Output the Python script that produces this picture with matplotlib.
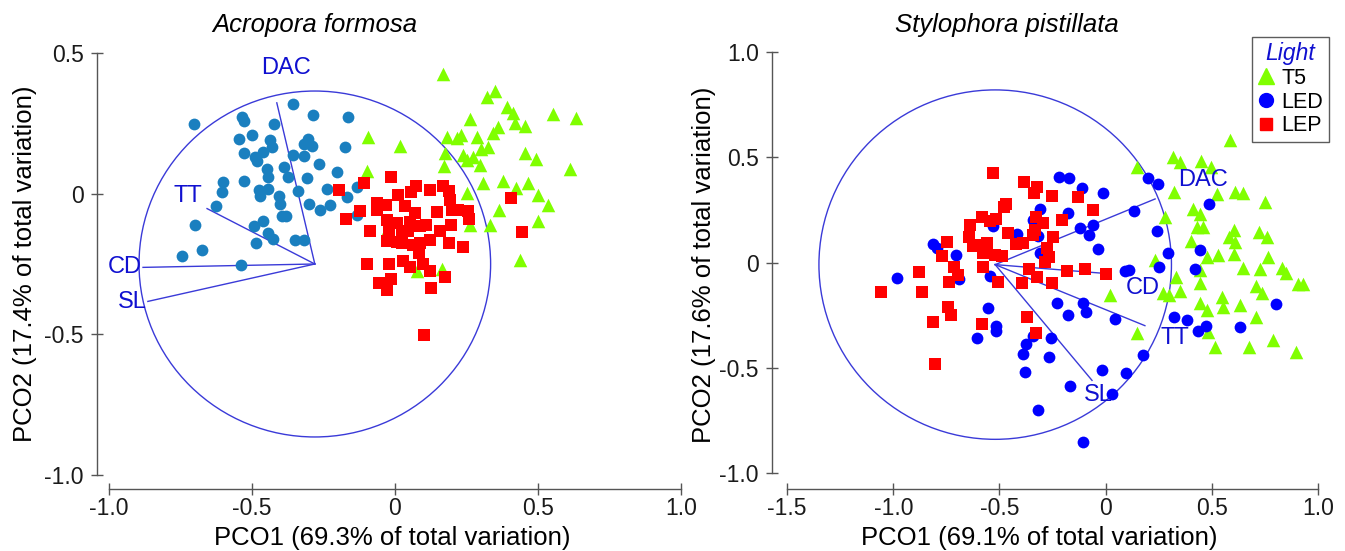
import numpy as np
import matplotlib
matplotlib.use("Agg")
import matplotlib.pyplot as plt
from matplotlib.patches import Ellipse
from matplotlib.lines import Line2D

plt.rcParams['font.family'] = ['Liberation Sans', 'DejaVu Sans']
plt.rcParams['axes.unicode_minus'] = False

# ---------------- Acropora formosa ----------------
afo_led_x = [-0.702, -0.358, -0.536, -0.528, -0.424, -0.288, -0.164, -0.501, -0.545, -0.436,
             -0.429, -0.304, -0.318, -0.290, -0.175, -0.527, -0.490, -0.461, -0.484, -0.356,
             -0.318, -0.266, -0.449, -0.388, -0.443, -0.373, -0.202, -0.309, -0.600, -0.528,
             -0.604, -0.474, -0.443, -0.472, -0.406, -0.340, -0.402, -0.237, -0.169, -0.134,
             -0.302, -0.262, -0.227, -0.626, -0.396, -0.382, -0.700, -0.492, -0.463, -0.443,
             -0.426, -0.486, -0.350, -0.318, -0.743, -0.675, -0.538, -0.134]
afo_led_y = [0.248, 0.319, 0.274, 0.259, 0.248, 0.280, 0.272, 0.209, 0.195, 0.191,
             0.166, 0.195, 0.177, 0.170, 0.166, 0.144, 0.132, 0.150, 0.117, 0.139,
             0.134, 0.105, 0.088, 0.094, 0.061, 0.058, 0.076, 0.055, 0.040, 0.046,
             0.005, 0.012, 0.017, -0.008, -0.008, 0.011, -0.038, 0.017, -0.013, 0.023,
             -0.035, -0.059, -0.039, -0.045, -0.080, -0.080, -0.110, -0.116, -0.098, -0.139,
             -0.160, -0.177, -0.163, -0.163, -0.222, -0.201, -0.255, -0.074]

afo_lep_x = [-0.195, -0.107, -0.014, 0.073, 0.122, 0.169, 0.190, 0.058, 0.012, -0.062,
             -0.031, -0.064, -0.122, -0.171, 0.035, 0.070, 0.146, 0.192, 0.201, 0.256,
             0.259, 0.221, -0.027, 0.006, 0.052, 0.087, 0.110, 0.157, 0.198, -0.087,
             -0.019, 0.025, 0.047, -0.027, 0.006, 0.025, 0.062, 0.087, 0.122, 0.190,
             0.237, 0.085, -0.099, -0.019, 0.027, 0.052, 0.099, 0.122, 0.175, -0.056,
             -0.029, -0.012, 0.128, 0.408, 0.446, 0.102]
afo_lep_y = [0.014, 0.038, 0.059, 0.029, 0.014, 0.029, 0.008, 0.005, -0.005, -0.033,
             -0.041, -0.057, -0.063, -0.090, -0.045, -0.069, -0.065, -0.024, -0.057, -0.063,
             -0.090, -0.057, -0.092, -0.104, -0.102, -0.116, -0.110, -0.134, -0.113, -0.134,
             -0.128, -0.134, -0.134, -0.169, -0.171, -0.175, -0.181, -0.177, -0.163, -0.175,
             -0.190, -0.210, -0.249, -0.249, -0.238, -0.262, -0.249, -0.276, -0.295, -0.319,
             -0.341, -0.305, -0.334, -0.015, -0.137, -0.504]

afo_t5_x = [0.169, 0.321, 0.350, 0.391, 0.414, 0.420, 0.455, 0.554, 0.635, 0.262,
            0.361, 0.344, 0.286, 0.181, 0.216, 0.233, 0.326, 0.303, -0.093, 0.017,
            0.455, 0.495, 0.612, 0.175, 0.239, 0.274, 0.251, 0.297, 0.171, -0.099,
            0.309, 0.379, 0.425, 0.466, 0.501, 0.536, 0.251, 0.365, 0.332, 0.501,
            0.437, 0.262, -0.024, 0.076, 0.166]
afo_t5_y = [0.424, 0.345, 0.366, 0.310, 0.286, 0.251, 0.239, 0.284, 0.269, 0.266,
            0.237, 0.217, 0.203, 0.201, 0.197, 0.209, 0.166, 0.159, 0.203, 0.168,
            0.146, 0.123, 0.088, 0.144, 0.138, 0.130, 0.121, 0.103, 0.099, 0.079,
            0.038, 0.044, 0.020, 0.038, -0.004, -0.041, 0.002, -0.059, -0.110, -0.098,
            -0.234, -0.110, -0.122, -0.276, -0.267]

afo_origin = (-0.28, -0.25)
afo_radius = 0.615
afo_vec_names = ['DAC', 'TT', 'CD', 'SL']
afo_vec_x = [-0.413, -0.657, -0.881, -0.864]
afo_vec_y = [0.323, -0.053, -0.262, -0.383]

# ---------------- Stylophora pistillata ----------------
spi_led_x = [-0.218, -0.171, -0.110, -0.011, -0.309, -0.176, -0.340, -0.529, -0.419, -0.317,
             -0.121, -0.058, -0.077, -0.034, -0.811, -0.795, -0.704, -0.692, -0.544, -0.984,
             -0.230, -0.176, -0.105, -0.094, 0.044, -0.555, -0.517, -0.517, -0.607, -0.376,
             -0.390, -0.340, -0.258, -0.265, -0.379, -0.168, -0.018, 0.096, 0.029, -0.317,
             -0.105, 0.091, -0.309, 0.201, 0.248, 0.134, 0.488, 0.243, 0.292, 0.253,
             0.444, 0.421, 0.112, 0.802, 0.324, 0.385, 0.437, 0.473, 0.633, 0.178]
spi_led_y = [0.408, 0.400, 0.352, 0.329, 0.253, 0.234, 0.202, 0.173, 0.135, 0.126,
             0.162, 0.178, 0.131, 0.063, 0.086, 0.067, 0.036, -0.080, -0.064, -0.075,
             -0.194, -0.249, -0.191, -0.234, -0.268, -0.215, -0.302, -0.324, -0.360, -0.387,
             -0.436, -0.349, -0.360, -0.447, -0.522, -0.587, -0.511, -0.526, -0.625, -0.701,
             -0.851, -0.039, 0.044, 0.400, 0.373, 0.246, 0.276, 0.150, 0.047, -0.020,
             0.059, -0.031, -0.036, -0.197, -0.260, -0.273, -0.324, -0.302, -0.305, -0.439]

spi_lep_x = [-0.532, -0.384, -0.322, -0.337, -0.251, -0.128, -0.058, -0.469, -0.478, -0.583,
             -0.516, -0.544, -0.638, -0.641, -0.591, -0.560, -0.623, -0.576, -0.521, -0.489,
             -0.458, -0.422, -0.390, -0.340, -0.326, -0.296, -0.332, -0.246, -0.277, -0.265,
             -0.285, -0.207, -0.748, -0.772, -0.714, -0.694, -0.736, -0.880, -0.866, -1.057,
             -0.576, -0.505, -0.395, -0.359, -0.322, -0.254, -0.183, -0.097, 0.002, -0.743,
             -0.729, -0.814, -0.583, -0.369, -0.328, -0.803]
spi_lep_y = [0.427, 0.384, 0.360, 0.332, 0.314, 0.310, 0.249, 0.278, 0.266, 0.215,
             0.205, 0.199, 0.178, 0.120, 0.083, 0.094, 0.078, 0.044, 0.036, 0.031,
             0.142, 0.088, 0.094, 0.131, 0.218, 0.186, 0.154, 0.123, 0.067, 0.027,
             0.004, 0.202, 0.099, 0.031, -0.020, -0.059, -0.091, -0.044, -0.139, -0.139,
             -0.023, -0.091, -0.096, -0.031, -0.067, -0.096, -0.039, -0.031, -0.055, -0.213,
             -0.249, -0.281, -0.292, -0.257, -0.333, -0.482]

spi_t5_x = [0.586, 0.316, 0.350, 0.449, 0.495, 0.146, 0.322, 0.523, 0.609, 0.645,
            0.750, 0.410, 0.444, 0.280, 0.429, 0.460, 0.605, 0.583, 0.724, 0.758,
            0.609, 0.401, 0.233, 0.479, 0.531, 0.605, 0.766, 0.645, 0.727, 0.829,
            0.849, 0.331, 0.444, 0.708, 0.735, 0.907, 0.931, 0.350, 0.272, 0.300,
            0.547, 0.551, 0.633, 0.444, 0.479, 0.708, 0.146, 0.482, 0.787, 0.515,
            0.677, 0.896, 0.021, 0.444]
spi_t5_y = [0.582, 0.503, 0.479, 0.482, 0.455, 0.452, 0.333, 0.324, 0.336, 0.329,
            0.286, 0.253, 0.230, 0.218, 0.167, 0.167, 0.154, 0.120, 0.146, 0.120,
            0.099, 0.104, 0.012, 0.028, 0.036, 0.040, 0.025, -0.028, -0.032, -0.028,
            -0.051, -0.067, -0.099, -0.112, -0.146, -0.102, -0.102, -0.135, -0.146, -0.154,
            -0.162, -0.213, -0.202, -0.191, -0.226, -0.260, -0.333, -0.329, -0.368, -0.400,
            -0.400, -0.424, -0.154, -0.036]

spi_origin = (-0.52, -0.01)
spi_radius = 0.83
spi_vec_names = ['DAC', 'CD', 'TT', 'SL']
spi_vec_x = [0.233, -0.026, 0.185, -0.064]
spi_vec_y = [0.302, -0.050, -0.300, -0.560]

GREEN = '#80ff00'
RED = '#ff0000'
TEAL = '#1a7fbf'
BLUE = '#0000ff'
VEC = '#3a3ad8'
LAB = '#1010d0'
AXC = '#555555'


def style_axes(ax, xticks, yticks):
    for s in ['top', 'right']:
        ax.spines[s].set_visible(False)
    for s in ['left', 'bottom']:
        ax.spines[s].set_color(AXC)
        ax.spines[s].set_linewidth(1.0)
    ax.spines['left'].set_bounds(yticks[0], yticks[-1])
    ax.spines['bottom'].set_bounds(xticks[0], xticks[-1])
    ax.set_xticks(xticks)
    ax.set_yticks(yticks)
    fmt = lambda v: '0' if abs(v) < 1e-9 else f'{v:.1f}'
    ax.set_xticklabels([fmt(v) for v in xticks])
    ax.set_yticklabels([fmt(v) for v in yticks])
    ax.tick_params(direction='inout', length=9, width=1, color=AXC,
                   labelsize=16.5, labelcolor='#1a1a1a', pad=5)
    ax.tick_params(axis='x', pad=1)
    ax.set_facecolor('none')


def biplot(ax, origin, radius, names, vx, vy, label_pos):
    ax.add_patch(Ellipse(origin, 2 * radius, 2 * radius, fill=False,
                         edgecolor=VEC, lw=1.0, zorder=1))
    for name, x, y in zip(names, vx, vy):
        ax.plot([origin[0], x], [origin[1], y], color=VEC, lw=1.0, zorder=1)
        tx, ty, ha = label_pos[name]
        ax.text(tx, ty, name, color=LAB, fontsize=17, ha=ha, va='center', zorder=5)


fig = plt.figure(figsize=(13.45, 5.51), dpi=100)

# left panel
ax1 = fig.add_axes([97 / 1345, 62 / 551, 598 / 1345, 450 / 551])
ax1.set_xlim(-1.042, 1.05)
ax1.set_ylim(-1.05, 0.55)
biplot(ax1, afo_origin, afo_radius, afo_vec_names, afo_vec_x, afo_vec_y,
       {'DAC': (-0.38, 0.447, 'center'), 'TT': (-0.724, -0.01, 'center'),
        'CD': (-0.885, -0.262, 'right'), 'SL': (-0.868, -0.386, 'right')})
ax1.scatter(afo_t5_x, afo_t5_y, marker='^', s=95, color=GREEN, linewidths=0, zorder=2)
ax1.scatter(afo_led_x, afo_led_y, marker='o', s=72, color=TEAL, linewidths=0, zorder=3)
ax1.scatter(afo_lep_x, afo_lep_y, marker='s', s=70, color=RED, linewidths=0, zorder=4)
style_axes(ax1, [-1.0, -0.5, 0.0, 0.5, 1.0], [-1.0, -0.5, 0.0, 0.5])
ax1.set_xlabel('PCO1 (69.3% of total variation)', fontsize=18.5)
ax1.set_ylabel('PCO2 (17.4% of total variation)', fontsize=18.5)
ax1.xaxis.set_label_coords(0.493, -0.082)
ax1.yaxis.set_label_coords(-0.101, 0.5)

# right panel
ax2 = fig.add_axes([772 / 1345, 62 / 551, 556.6 / 1345, 447.5 / 551])
ax2.set_xlim(-1.571, 1.05)
ax2.set_ylim(-1.076, 1.05)
biplot(ax2, spi_origin, spi_radius, spi_vec_names, spi_vec_x, spi_vec_y,
       {'DAC': (0.459, 0.39, 'center'), 'CD': (0.176, -0.12, 'center'),
        'TT': (0.327, -0.36, 'center'), 'SL': (-0.036, -0.63, 'center')})
ax2.scatter(spi_t5_x, spi_t5_y, marker='^', s=95, color=GREEN, linewidths=0, zorder=2)
ax2.scatter(spi_led_x, spi_led_y, marker='o', s=72, color=BLUE, linewidths=0, zorder=3)
ax2.scatter(spi_lep_x, spi_lep_y, marker='s', s=70, color=RED, linewidths=0, zorder=4)
style_axes(ax2, [-1.5, -1.0, -0.5, 0.0, 0.5, 1.0], [-1.0, -0.5, 0.0, 0.5, 1.0])
ax2.set_xlabel('PCO1 (69.1% of total variation)', fontsize=18.5)
ax2.set_ylabel('PCO2 (17.6% of total variation)', fontsize=18.5)
ax2.xaxis.set_label_coords(0.481, -0.082)
ax2.yaxis.set_label_coords(-0.100, 0.5)

handles = [Line2D([], [], marker='^', ls='none', color=GREEN, markersize=11),
           Line2D([], [], marker='o', ls='none', color=BLUE, markersize=10),
           Line2D([], [], marker='s', ls='none', color=RED, markersize=9)]
leg = ax2.legend(handles, ['T5', 'LED', 'LEP'], title='Light', loc='upper right',
                 bbox_to_anchor=(1.0, 1.01), fontsize=15.5, title_fontsize=16.5,
                 frameon=True, fancybox=False, edgecolor='#333333',
                 handlelength=0.8, handletextpad=0.3, labelspacing=0.12,
                 borderpad=0.25, borderaxespad=0)
leg.get_title().set_color(LAB)
leg.get_title().set_style('italic')
leg.get_frame().set_linewidth(1.0)

fig.text(315 / 1345, 1 - 25 / 551, 'Acropora formosa', fontsize=18.5,
         style='italic', ha='center', va='center')
fig.text(1007 / 1345, 1 - 25 / 551, 'Stylophora pistillata', fontsize=18.5,
         style='italic', ha='center', va='center')

fig.savefig('out.png', dpi=100)
